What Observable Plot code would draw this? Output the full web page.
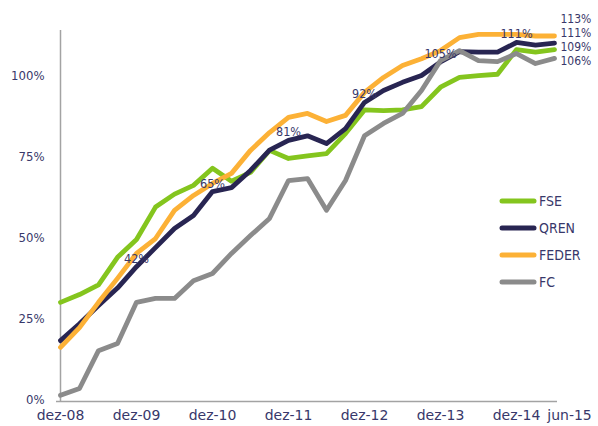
<!DOCTYPE html>
<html><head><meta charset="utf-8">
<script src="https://cdn.jsdelivr.net/npm/d3@7"></script>
<script src="https://cdn.jsdelivr.net/npm/@observablehq/plot@0.6"></script>
<style>
body{margin:0;background:#fff;}
#wrap{position:relative;width:598px;height:426px;overflow:hidden;}
#legend{position:absolute;left:499px;top:187px;font-family:"DejaVu Sans Condensed","DejaVu Sans",sans-serif;font-size:14px;color:#38386a;}
#legend .row{display:flex;align-items:center;height:27px;}
#legend svg{margin-right:2px;}
</style></head><body><div id="wrap"><div id="legend"></div></div>
<script>
const quarters = ["dez-08","mar-09","jun-09","set-09","dez-09","mar-10","jun-10","set-10","dez-10","mar-11","jun-11","set-11","dez-11","mar-12","jun-12","set-12","dez-12","mar-13","jun-13","set-13","dez-13","mar-14","jun-14","set-14","dez-14","mar-15","jun-15"];
const FSE   = [30.6,33,36,44.5,50,60,64,66.7,72,68,70.7,77.5,75,75.8,76.5,82.7,90,89.8,90,91,97,100,100.6,101,108.6,107.8,108.6];
const QREN  = [18.8,24,29.6,35,41.6,47.5,53.4,57.4,64.8,66,71.3,77.6,80.6,82,79.6,84.2,92.3,96,98.5,100.6,104.8,108,107.8,107.8,110.8,110,110.6];
const FEDER = [16.7,22.8,30.6,38,45.7,50.3,59,63.6,67.3,70.4,77.5,83,87.7,88.9,86.4,88.3,95.4,100,103.7,105.8,108.3,112.3,113.3,113.3,113.3,112.8,112.8];
const FC    = [1.9,4,15.7,17.9,30.6,31.8,31.8,37.3,39.5,45.7,51.2,56.5,68.2,68.8,59,68.2,82,85.8,88.9,96,105.2,108.3,105.2,104.9,107.4,104.3,105.9];
const seriesNames = ["FSE","QREN","FEDER","FC"];
const seriesValues = [FSE, QREN, FEDER, FC];
const colors = ["#84c51e","#282552","#fcb136","#8b8b8b"];
const xTickLabels = ["dez-08","dez-09","dez-10","dez-11","dez-12","dez-13","dez-14"];
const lastTickLabel = ["jun-15"];
const yTicks = [0,25,50,75,100];
const annotated = ["dez-09","dez-10","dez-11","dez-12","dez-13","dez-14"];

const textColor = "#38386a";
const condensed = "DejaVu Sans Condensed, DejaVu Sans, sans-serif";

const rows = [];
seriesNames.forEach((s, k) => seriesValues[k].forEach((v, i) => rows.push({series: s, q: quarters[i], v})));
const last = seriesNames.map((s, k) => ({series: s, q: quarters[quarters.length - 1], v: seriesValues[k][quarters.length - 1]}));
const endOffsets = {FSE: -2, QREN: -10, FEDER: -17, FC: 3};
const qrenLabels = rows.filter(d => d.series === "QREN" && annotated.includes(d.q));

const chart = Plot.plot({
  width: 598, height: 426,
  marginLeft: 56, marginRight: 41, marginTop: 30, marginBottom: 25,
  x: {type: "point", domain: quarters, padding: 0},
  y: {domain: [0, 114.5]},
  color: {domain: seriesNames, range: colors},
  style: {fontFamily: "DejaVu Sans, sans-serif", color: textColor, background: "#fff"},
  marks: [
    Plot.axisY({ticks: yTicks, tickFormat: d => d + "%", tickSize: 0, tickPadding: 12, label: null, fontSize: 13, fontFamily: condensed, fill: textColor, dy: -2}),
    Plot.axisX({ticks: xTickLabels, tickSize: 0, tickPadding: 9, label: null, fontSize: 14, fill: textColor}),
    Plot.axisX({ticks: lastTickLabel, tickSize: 0, tickPadding: 9, label: null, fontSize: 14, fill: textColor, dx: 15}),
    Plot.ruleX([quarters[0]], {stroke: "#a3a3a3", strokeWidth: 1.5}),
    Plot.ruleY([0], {stroke: "#a3a3a3", strokeWidth: 1.5}),
    ...seriesNames.map(s => Plot.line(rows.filter(d => d.series === s), {x: "q", y: "v", stroke: "series", strokeWidth: 4.8, strokeLinejoin: "round"})),
    Plot.text(qrenLabels, {x: "q", y: "v", text: d => Math.round(d.v) + "%", dy: -8, fontSize: 12.5, fontFamily: condensed, fill: textColor}),
    ...last.map(d => Plot.text([d], {x: "q", y: "v", text: r => Math.round(r.v) + "%", textAnchor: "start", dx: 6, dy: endOffsets[d.series], fontSize: 12, fontFamily: condensed, fill: textColor}))
  ]
});
document.getElementById("wrap").prepend(chart);

const legend = document.getElementById("legend");
seriesNames.forEach((s, k) => {
  const row = document.createElement("div");
  row.className = "row";
  row.innerHTML = `<svg width="38" height="10"><line x1="3" y1="5" x2="35" y2="5" stroke="${colors[k]}" stroke-width="5" stroke-linecap="round"/></svg><span>${s}</span>`;
  legend.appendChild(row);
});
</script>
</body></html>
